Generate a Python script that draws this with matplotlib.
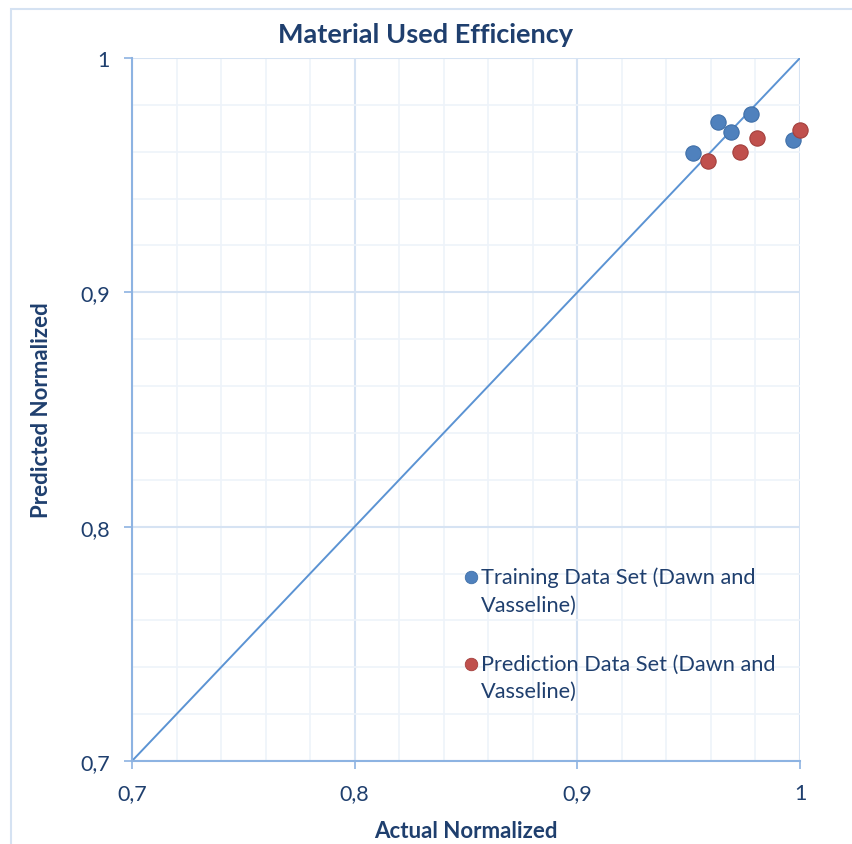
import matplotlib
matplotlib.use("Agg")
import matplotlib.pyplot as plt
from matplotlib.patches import Rectangle
from matplotlib.ticker import MultipleLocator, FuncFormatter

# Data
train_actual = [0.952, 0.963, 0.969, 0.978, 0.997]
train_pred = [0.9595, 0.9727, 0.9684, 0.9760, 0.9650]
pred_actual = [0.9587, 0.9730, 0.9807, 1.000]
pred_pred = [0.9560, 0.9599, 0.9659, 0.9693]
ideal_line = [0.7, 1.0]
major_ticks = [0.7, 0.8, 0.9, 1.0]
train_label = "Training Data Set (Dawn and\nVasseline)"
pred_label = "Prediction Data Set (Dawn and\nVasseline)"

plt.rcParams['font.family'] = ['Lato', 'DejaVu Sans']

text_col = "#1F3F6E"
blue = "#4F81BD"
red = "#C0504D"
spine_col = "#8DB3E2"

fig = plt.figure(figsize=(8.53, 8.45), dpi=100)
fig.patches.append(Rectangle((11 / 853, -0.05), 1.0, 1.05 - 10 / 845,
                             transform=fig.transFigure, fill=False,
                             edgecolor="#D5E2F2", linewidth=1.5))

ax = fig.add_axes([132 / 853, 1 - 762 / 845, 668 / 853, 703 / 845])
ax.set_xlim(0.7, 1.0)
ax.set_ylim(0.7, 1.0)

ax.xaxis.set_minor_locator(MultipleLocator(0.02))
ax.yaxis.set_minor_locator(MultipleLocator(0.02))
fmt = FuncFormatter(lambda v, p: ("%g" % round(v, 2)).replace(".", ","))
ax.set_xticks(major_ticks)
ax.set_yticks(major_ticks)
ax.xaxis.set_major_formatter(fmt)
ax.yaxis.set_major_formatter(fmt)

ax.grid(which="minor", color="#EEF3FA", linewidth=1.2)
ax.grid(which="major", color="#D6E3F3", linewidth=1.5)
ax.set_axisbelow(True)

for s in ["top", "right"]:
    ax.spines[s].set_visible(False)
for s in ["left", "bottom"]:
    ax.spines[s].set_color(spine_col)
    ax.spines[s].set_linewidth(1.5)

ax.tick_params(which="major", length=6, width=1.2, color=spine_col,
               labelcolor=text_col, labelsize=15.5, pad=10)
ax.tick_params(which="minor", length=0)

ax.plot(ideal_line, ideal_line, color="#5B93D3", linewidth=1.4, zorder=2)

ax.plot(train_actual, train_pred, "o", color=blue, markersize=11,
        markeredgecolor="#3F6FA8", markeredgewidth=0.8, zorder=3, clip_on=False)
ax.plot(pred_actual, pred_pred, "o", color=red, markersize=11,
        markeredgecolor="#A33F3C", markeredgewidth=0.8, zorder=4, clip_on=False)

# Legend entries placed inside the plot area
leg_x = 0.8522
leg_rows = [(0.7786, blue, "#3F6FA8", train_label),
            (0.7415, red, "#A33F3C", pred_label)]
for y, fc, ec, label in leg_rows:
    ax.plot([leg_x], [y], "o", color=fc, markersize=9,
            markeredgecolor=ec, markeredgewidth=0.6, zorder=5)
    ax.text(leg_x + 0.0045, y + 0.0043, label, color=text_col, fontsize=15.7,
            va="top", ha="left", linespacing=1.45)

fig.text(426 / 853, 1 - 35 / 845, "Material Used Efficiency", color=text_col,
         fontsize=19.5, fontweight="bold", ha="center", va="center")
ax.set_xlabel("Actual Normalized", color=text_col, fontsize=16,
              fontweight="bold", labelpad=12)
ax.set_ylabel("Predicted Normalized", color=text_col, fontsize=16,
              fontweight="bold", labelpad=20)

fig.savefig("out.png", dpi=100)
